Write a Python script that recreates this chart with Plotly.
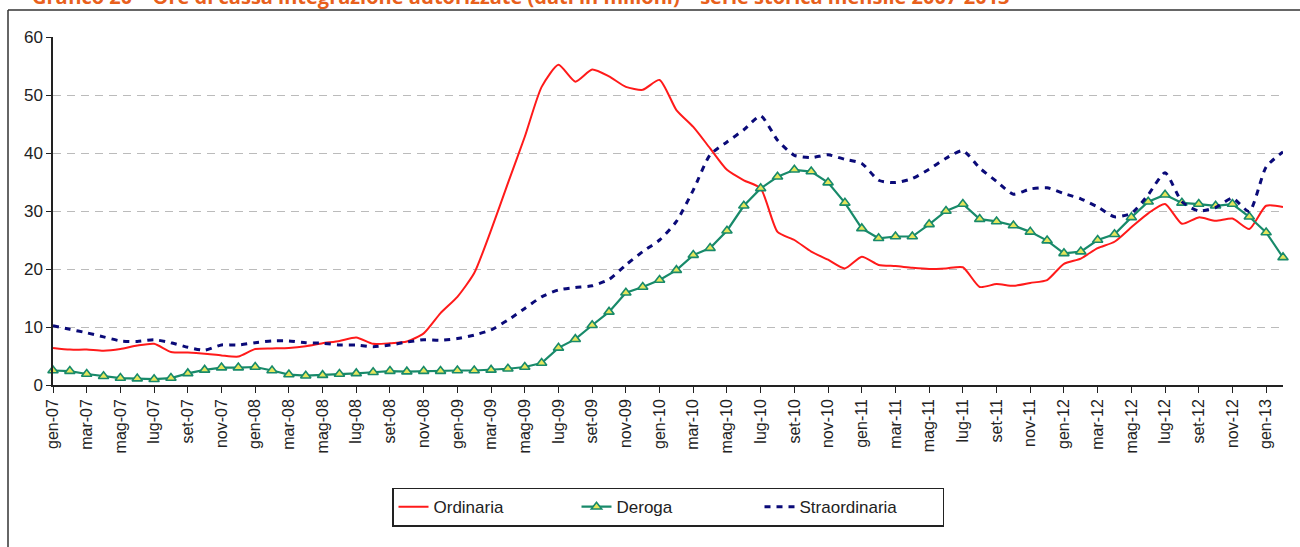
import plotly.graph_objects as go

mesi = ["gen", "feb", "mar", "apr", "mag", "giu", "lug", "ago", "set", "ott", "nov", "dic"]
anni = ["07", "08", "09", "10", "11", "12", "13"]
categorie = [f"{m}-{a}" for a in anni for m in mesi][:74]  # gen-07 ... feb-13

ordinaria = [6.4, 6.1, 6.1, 5.9, 6.2, 6.8, 7.1, 5.7, 5.6, 5.4, 5.1, 4.9,
             6.2, 6.3, 6.4, 6.7, 7.2, 7.6, 8.2, 7.1, 7.2, 7.5, 8.9, 12.4,
             15.2, 19.3, 26.7, 34.8, 42.8, 51.4, 55.2, 52.3, 54.4, 53.2, 51.4, 50.9,
             52.6, 47.4, 44.5, 40.8, 37.1, 35.3, 33.9, 26.4, 25.0, 23.0, 21.6, 20.1,
             22.1, 20.7, 20.5, 20.2, 20.0, 20.1, 20.3, 16.9, 17.4, 17.1, 17.6, 18.1,
             20.9, 21.8, 23.6, 24.7, 27.2, 29.6, 31.2, 27.8, 28.9, 28.3, 28.7, 26.9,
             30.9, 30.7]

deroga = [2.5, 2.4, 1.9, 1.5, 1.2, 1.1, 1.0, 1.2, 2.0, 2.6, 3.0, 3.0,
          3.1, 2.5, 1.8, 1.6, 1.7, 1.9, 2.0, 2.2, 2.4, 2.3, 2.4, 2.4,
          2.5, 2.5, 2.6, 2.8, 3.1, 3.8, 6.4, 7.9, 10.3, 12.6, 15.9, 16.9,
          18.1, 19.8, 22.4, 23.6, 26.6, 30.9, 33.9, 35.9, 37.1, 36.8, 34.9, 31.4,
          27.0, 25.3, 25.6, 25.6, 27.7, 30.0, 31.2, 28.6, 28.2, 27.5, 26.4, 24.9,
          22.7, 23.0, 25.0, 26.0, 28.9, 31.6, 32.8, 31.4, 31.2, 30.9, 31.2, 29.0,
          26.3, 22.0]

straordinaria = [10.2, 9.6, 9.0, 8.3, 7.6, 7.5, 7.8, 7.3, 6.5, 6.0, 6.9, 6.9,
                 7.3, 7.6, 7.6, 7.3, 7.2, 6.9, 6.9, 6.6, 6.9, 7.4, 7.8, 7.7,
                 8.0, 8.6, 9.5, 11.2, 13.2, 15.2, 16.4, 16.8, 17.1, 18.2, 20.7, 23.0,
                 25.0, 28.2, 33.6, 39.7, 41.9, 44.0, 46.4, 42.2, 39.6, 39.2, 39.7, 38.9,
                 38.2, 35.3, 34.9, 35.6, 37.2, 39.1, 40.4, 37.4, 35.1, 32.9, 33.8, 34.0,
                 33.0, 32.1, 30.7, 29.0, 29.6, 32.8, 36.6, 31.6, 30.0, 30.6, 32.2, 29.9,
                 37.6, 40.2]

ytick_vals = [0, 10, 20, 30, 40, 50, 60]
titolo = "Grafico 20 \u2013 Ore di cassa integrazione autorizzate (dati in milioni) \u2013 serie storica mensile 2007-2013"

FONT = "Liberation Sans Narrow, Arial Narrow, Liberation Sans, Arial, sans-serif"

fig = go.Figure()
fig.add_trace(go.Scatter(
    x=categorie, y=ordinaria, name="Ordinaria", mode="lines",
    line=dict(color="#FF1A1A", width=2, shape="spline", smoothing=0.6)))
fig.add_trace(go.Scatter(
    x=categorie, y=deroga, name="Deroga", mode="lines+markers",
    line=dict(color="#188A6A", width=2.2),
    marker=dict(symbol="triangle-up", size=9, color="#E6E65C",
                line=dict(color="#188A6A", width=1.6)),
    cliponaxis=False))
fig.add_trace(go.Scatter(
    x=categorie, y=straordinaria, name="Straordinaria", mode="lines",
    line=dict(color="#0A0A78", width=3, dash="6px,6px", shape="spline", smoothing=0.6)))

fig.update_layout(
    width=1300, height=547,
    margin=dict(l=53, r=17, t=37, b=162, autoexpand=False),
    paper_bgcolor="white", plot_bgcolor="white",
    font=dict(family=FONT, size=16, color="#222222"),
    showlegend=True,
    legend=dict(orientation="h", x=0.5, xanchor="center", y=-0.295, yanchor="top",
                bordercolor="#222222", borderwidth=1.5, bgcolor="white",
                font=dict(family=FONT, size=17, color="#222222"),
                entrywidth=138, entrywidthmode="pixels", tracegroupgap=0),
    xaxis=dict(
        type="category", categoryorder="array", categoryarray=categorie,
        range=[0, len(categorie) - 1],
        tickmode="array", tickvals=categorie[::2], ticktext=categorie[::2],
        tickangle=-90, ticks="outside", ticklen=6, tickcolor="#222222",
        showline=True, linecolor="#222222", linewidth=1.5,
        showgrid=False, zeroline=False,
        tickfont=dict(family=FONT, size=16, color="#222222")),
    yaxis=dict(
        range=[0, 60], tickmode="array", tickvals=ytick_vals,
        ticks="outside", ticklen=5, tickcolor="#222222",
        showline=True, linecolor="#222222", linewidth=1.5,
        showgrid=True, gridcolor="#BBBBBB", griddash="8px,6px", gridwidth=1,
        zeroline=False,
        tickfont=dict(family=FONT, size=17, color="#222222")),
)

# outer frame of the original figure (pixel -> paper conversion)
def px(xp):
    return (xp - 53) / 1230.0

def py(yp):
    return (385 - yp) / 348.0

fig.add_shape(type="line", xref="paper", yref="paper",
              x0=px(8), x1=px(1300), y0=py(10), y1=py(10),
              line=dict(color="#333333", width=1.5))
fig.add_shape(type="line", xref="paper", yref="paper",
              x0=px(8), x1=px(8), y0=py(10), y1=py(547),
              line=dict(color="#333333", width=1.5))

fig.add_annotation(text="<b>" + titolo + "</b>", xref="paper", yref="paper",
                   x=px(30), y=py(-3), xanchor="left", yanchor="middle",
                   showarrow=False,
                   font=dict(family="Open Sans, Liberation Sans, sans-serif", size=20, color="#E8601C"))

# remove the default page margin so the figure sits at the window's top-left corner
fig.write_html("out.html", config={"displayModeBar": False},
               post_script="document.body.style.margin='0';")
